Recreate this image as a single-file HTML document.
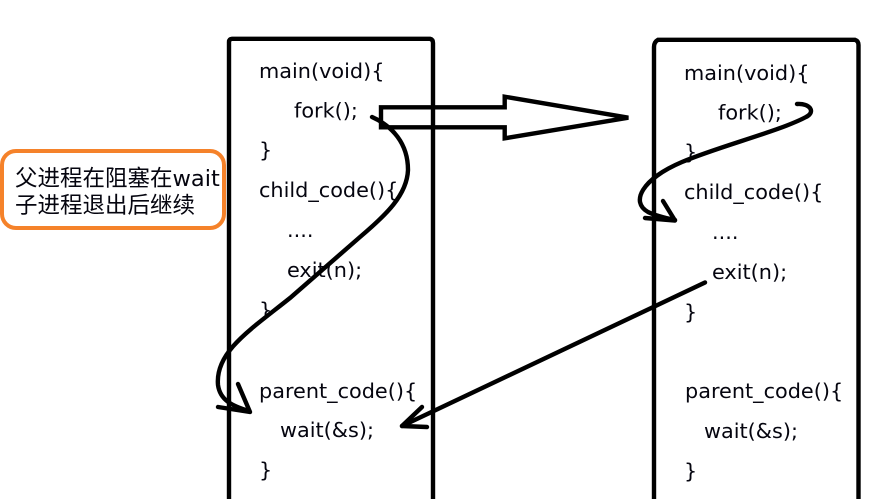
<!DOCTYPE html>
<html>
<head>
<meta charset="utf-8">
<style>
  html,body{margin:0;padding:0;background:#fff;}
  body{width:883px;height:499px;overflow:hidden;}
  svg{display:block;}
  .code{font-family:"DejaVu Sans","Liberation Sans",sans-serif;font-size:20.8px;fill:#05050f;}
  .note{font-family:"DejaVu Sans","Noto Sans CJK SC",sans-serif;font-size:22.5px;fill:#05050f;}
</style>
</head>
<body>
<svg width="883" height="499" viewBox="0 0 883 499" xmlns="http://www.w3.org/2000/svg">
  <rect x="0" y="0" width="883" height="499" fill="#fff"/>

  <!-- orange note box -->
  <rect x="2" y="151" width="222" height="77" rx="14" ry="14" fill="none" stroke="#f5822a" stroke-width="4"/>
  <text class="note" x="15" y="186">父进程在阻塞在wait</text>
  <text class="note" x="15" y="213">子进程退出后继续</text>

  <!-- left box -->
  <path d="M229,499 L229,42 Q229,39 232,38.8 L430,38.8 Q433,39.5 433,43 L433,499" fill="none" stroke="#000" stroke-width="4.4"/>
  <!-- right box -->
  <path d="M654,499 L654,47 Q654,42 658,39.8 L855,39.8 Q858.5,41 858.5,45 L858.5,499" fill="none" stroke="#000" stroke-width="4.4"/>

  <!-- left code -->
  <text class="code" x="259" y="78">main(void){</text>
  <text class="code" x="294" y="117.5">fork();</text>
  <text class="code" x="259" y="157">}</text>
  <text class="code" x="259" y="197">child_code(){</text>
  <text class="code" x="287" y="237">....</text>
  <text class="code" x="287" y="277">exit(n);</text>
  <text class="code" x="259" y="317">}</text>
  <text class="code" x="259" y="398">parent_code(){</text>
  <text class="code" x="280" y="437">wait(&amp;s);</text>
  <text class="code" x="259" y="477">}</text>

  <!-- right code -->
  <text class="code" x="684" y="80">main(void){</text>
  <text class="code" x="718" y="119.5">fork();</text>
  <text class="code" x="684" y="159">}</text>
  <text class="code" x="684" y="199">child_code(){</text>
  <text class="code" x="712" y="239">....</text>
  <text class="code" x="712" y="279">exit(n);</text>
  <text class="code" x="684" y="319">}</text>
  <text class="code" x="685" y="398">parent_code(){</text>
  <text class="code" x="704" y="438">wait(&amp;s);</text>
  <text class="code" x="684" y="478">}</text>

  <!-- hollow fork arrow -->
  <polygon points="381,107.3 504.7,107.3 504.7,96.7 628.3,117.7 504.7,138.3 504.7,127.3 381,127.3"
           fill="none" stroke="#000" stroke-width="4.4" stroke-linejoin="miter"/>

  <!-- left curve: fork -> parent wait -->
  <path d="M372,117 C392,126 408,143 408,170 C407,195 386,215 360,237 L290,298 C250,330 215,352 218,385 C220,400 232,406 249,411"
        fill="none" stroke="#000" stroke-width="4.4" stroke-linecap="round"/>
  <path d="M238,384 L250,412 L218,407" fill="none" stroke="#000" stroke-width="4.4" stroke-linecap="round" stroke-linejoin="round"/>

  <!-- right curve: fork -> child_code -->
  <path d="M797,104 C810,103 816,112 806,117 C780,131 720,146 682,162 C642,179 630,202 648,212 C656,216 665,218 675,220"
        fill="none" stroke="#000" stroke-width="4.4" stroke-linecap="round"/>
  <path d="M663,201 L675,220.5 L645,218" fill="none" stroke="#000" stroke-width="4.4" stroke-linecap="round" stroke-linejoin="round"/>

  <!-- exit -> wait arrow -->
  <path d="M705,282.5 L402,426" fill="none" stroke="#000" stroke-width="4.4" stroke-linecap="round"/>
  <path d="M422,407 L402,426 L427,427" fill="none" stroke="#000" stroke-width="4.4" stroke-linecap="round" stroke-linejoin="round"/>
</svg>
</body>
</html>
